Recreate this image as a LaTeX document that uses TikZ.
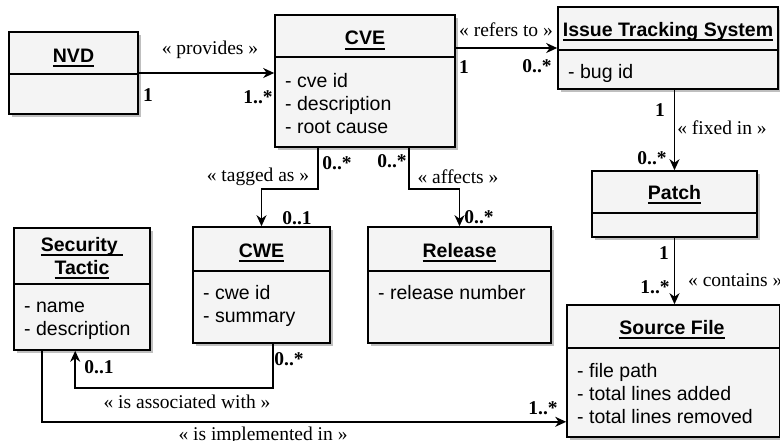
\documentclass[tikz,border=0pt]{standalone}
\usepackage{fontspec}
\setmainfont{Liberation Serif}
\setsansfont{Liberation Sans}
\usetikzlibrary{arrows.meta,shadows,calc}
% underlined class name: a 1.6pt rule just below the baseline
\newcommand\uln[1]{\setbox0\hbox{#1}\leavevmode\rlap{\vrule height -3.4pt depth 5pt width \wd0}\box0}

\begin{document}
\begin{tikzpicture}[x=1pt,y=-1pt,
  classbox/.style={draw=black, line width=1.6pt, fill=gray!9, inner sep=0pt,
    drop shadow={shadow xshift=3pt, shadow yshift=-3pt, fill=gray!50, opacity=1}},
  sep/.style={line width=1.6pt},
  title/.style={font=\sffamily\bfseries\fontsize{19.5}{23.4}\selectfont, anchor=base, inner sep=0pt},
  attr/.style={font=\sffamily\fontsize{19.5}{23.4}\selectfont, anchor=base west, inner sep=0pt},
  lbl/.style={font=\fontsize{19.5}{23.4}\selectfont, inner sep=0pt},
  mult/.style={font=\bfseries\fontsize{19.5}{23.4}\selectfont, inner sep=0pt},
  link/.style={line width=1.6pt, -{Stealth[length=11pt,width=10pt,inset=3.5pt]}}
]
\useasboundingbox (0,0) rectangle (780,440);

% ---------- classes ----------
\node[classbox, minimum width=129, minimum height=82] (nvd) at (73.5,73) {};
\draw[sep] (nvd.west |- 0,74) -- (nvd.east |- 0,74);
\node[title] (nvdT) at (73.5,62) {\uln{NVD}};

\node[classbox, minimum width=180, minimum height=132] (cve) at (365,81) {};
\draw[sep] (cve.west |- 0,57) -- (cve.east |- 0,57);
\node[title] (cveT) at (365,44.5) {\uln{CVE}};
\node[attr] (cveA1) at (285,87) {- cve id};
\node[attr] (cveA2) at (285,110.4) {- description};
\node[attr] (cveA3) at (285,133.8) {- root cause};

\node[classbox, minimum width=220, minimum height=82] (its) at (668,48) {};
\draw[sep] (its.west |- 0,50) -- (its.east |- 0,50);
\node[title] (itsT) at (668,36) {\uln{Issue Tracking System}};
\node[attr] (itsA1) at (568,78) {- bug id};

\node[classbox, minimum width=165, minimum height=66] (patch) at (674.5,204) {};
\draw[sep] (patch.west |- 0,213) -- (patch.east |- 0,213);
\node[title] (patchT) at (674.5,199) {\uln{Patch}};

\node[classbox, minimum width=213, minimum height=132] (sf) at (673.5,371) {};
\draw[sep] (sf.west |- 0,348) -- (sf.east |- 0,348);
\node[title] (sfT) at (672,334) {\uln{Source File}};
\node[attr] (sfA1) at (577,377) {- file path};
\node[attr] (sfA2) at (577,400.4) {- total lines added};
\node[attr] (sfA3) at (577,423.8) {- total lines removed};

\node[classbox, minimum width=136, minimum height=122] (st) at (82,289) {};
\draw[sep] (st.west |- 0,284) -- (st.east |- 0,284);
\node[title] (stT1) at (82,251) {\uln{Security }};
\node[title] (stT2) at (82,274) {\uln{Tactic}};
\node[attr] (stA1) at (24,312) {- name};
\node[attr] (stA2) at (24,335.4) {- description};

\node[classbox, minimum width=137, minimum height=116] (cwe) at (261.5,285) {};
\draw[sep] (cwe.west |- 0,271) -- (cwe.east |- 0,271);
\node[title] (cweT) at (261.5,257) {\uln{CWE}};
\node[attr] (cweA1) at (203,299) {- cwe id};
\node[attr] (cweA2) at (203,322.4) {- summary};

\node[classbox, minimum width=183, minimum height=116] (rel) at (459.5,285) {};
\draw[sep] (rel.west |- 0,271) -- (rel.east |- 0,271);
\node[title] (relT) at (459.5,257) {\uln{Release}};
\node[attr] (relA1) at (378,299) {- release number};

% ---------- associations ----------
\draw[link] (nvd.east) -- (nvd.east -| cve.west);
\node[lbl] (provides) at (210,50) {« provides »};
\node[mult] (m1) at (148,95) {1};
\node[mult] (m2) at (258,97) {1..*};

\draw[link] (cve.east |- its.west) -- (its.west);
\node[lbl] (refers) at (506,30) {« refers to »};
\node[mult] (m3) at (464,67) {1};
\node[mult] (m4) at (537,66) {0..*};

\draw[link] (patch.north |- its.south) -- (patch.north);
\node[mult] (m5) at (660,110) {1};
\node[lbl] (fixed) at (722,128) {« fixed in »};
\node[mult] (m6) at (652,158) {0..*};

\draw[link] (patch.south) -- (patch.south |- sf.north);
\node[mult] (m7) at (664,253) {1};
\node[mult] (m8) at (655,287) {1..*};
\node[lbl, anchor=west] (contains) at (688,280) {« contains »};

\draw[link] ($(cve.south west)+(44,0)$) -- ++(0,41) -| (cwe.north);
\node[mult] (m9) at (337,163) {0..*};
\node[lbl] (tagged) at (258,177) {« tagged as »};
\node[mult] (m10) at (297,218) {0..1};

\draw[link] ($(cve.south west)+(135,0)$) -- ++(0,41) -| (rel.north);
\node[mult] (m11) at (392,161) {0..*};
\node[lbl] (affects) at (458,177) {« affects »};
\node[mult] (m12) at (479,217) {0..*};

\draw[link] ($(cwe.south west)+(81,0)$) -- ++(0,44) -| ($(st.south west)+(62,0)$);
\node[mult] (m13) at (289,359) {0..*};
\node[mult] (m14) at (99,367) {0..1};
\node[lbl] (assoc) at (187,402) {« is associated with »};

\draw[link] ($(st.south west)+(29,0)$) |- ($(sf.south west)+(0,-16)$);
\node[lbl] (impl) at (263,436) {« is implemented in »};
\node[mult] (m15) at (543,408) {1..*};
\end{tikzpicture}
\end{document}
